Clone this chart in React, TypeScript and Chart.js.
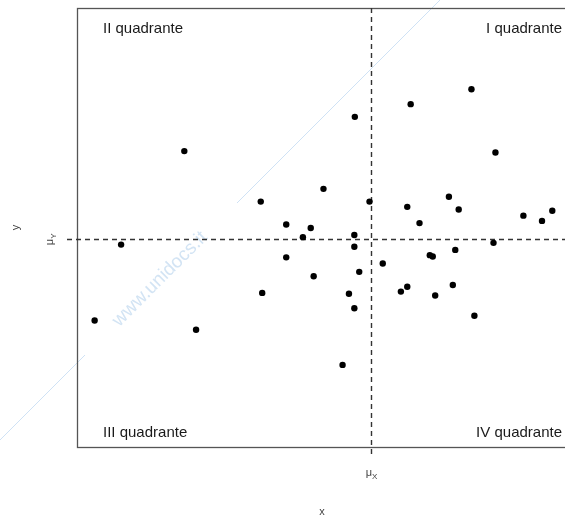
import React, { useEffect, useRef } from "react";
import { Chart, registerables } from "chart.js";

Chart.register(...registerables);

// Data in arbitrary units (0..100 on each axis across the plot box)
const xValues = [
  21.9, 9.0, 3.6, 24.3, 56.7, 50.3, 37.5, 59.7, 42.7, 47.7,
  46.1, 56.6, 56.6, 42.7, 57.6, 48.3, 37.8, 55.5, 56.6, 54.2,
  80.5, 68.1, 85.4, 75.9, 67.4, 77.9, 69.9, 91.1, 94.9, 97.0,
  85.0, 62.4, 72.0, 72.6, 77.2, 66.1, 67.4, 76.7, 73.1, 81.1,
];
const yValues = [
  67.4, 46.1, 28.8, 26.7, 75.2, 58.8, 55.9, 55.9, 50.7, 49.9,
  47.8, 48.3, 45.6, 43.2, 39.9, 38.9, 35.1, 34.9, 31.6, 18.7,
  81.5, 78.1, 67.1, 57.0, 54.7, 54.1, 51.0, 52.7, 51.5, 53.8,
  46.5, 41.8, 43.7, 43.4, 44.9, 35.4, 36.5, 36.9, 34.5, 29.9,
];
const muX = 60.1;
const muY = 47.3;
const quadrantLabels = ["I quadrante", "II quadrante", "III quadrante", "IV quadrante"];
const xLabel = "x";
const yLabel = "y";
const watermark = "www.unidocs.it";

const FONT = "'Liberation Sans', Arial, sans-serif";

const decorPlugin = {
  id: "decor",
  beforeDatasetsDraw(chart: any) {
    const { ctx, chartArea, scales } = chart;
    const { left, right, top, bottom } = chartArea;
    const mx = Math.round(scales.x.getPixelForValue(muX)) + 0.5;
    const my = Math.round(scales.y.getPixelForValue(muY)) + 0.5;
    ctx.save();
    // watermark line
    ctx.strokeStyle = "#cfe2f5";
    ctx.lineWidth = 1;
    ctx.beginPath();
    ctx.moveTo(0, 440);
    ctx.lineTo(85, 355);
    ctx.moveTo(237, 203);
    ctx.lineTo(440, 0);
    ctx.stroke();
    // watermark text
    ctx.save();
    ctx.translate(160, 279);
    ctx.rotate(-Math.PI / 4);
    ctx.fillStyle = "#d3e4f4";
    ctx.font = `19px ${FONT}`;
    ctx.textAlign = "center";
    ctx.textBaseline = "middle";
    ctx.fillText(watermark, 0, 0);
    ctx.restore();
    // box
    ctx.strokeStyle = "#555";
    ctx.lineWidth = 1.3;
    ctx.strokeRect(left + 0.5, top + 0.5, right - left, bottom - top);
    // dashed mean lines
    ctx.strokeStyle = "#333";
    ctx.lineWidth = 1.4;
    ctx.setLineDash([5, 4]);
    ctx.beginPath();
    ctx.moveTo(mx, top);
    ctx.lineTo(mx, bottom + 10);
    ctx.moveTo(left - 10, my);
    ctx.lineTo(right, my);
    ctx.stroke();
    ctx.setLineDash([]);
    ctx.restore();
  },
  afterDraw(chart: any) {
    const { ctx, chartArea, scales } = chart;
    const { left, right, top, bottom } = chartArea;
    const mx = scales.x.getPixelForValue(muX);
    const my = scales.y.getPixelForValue(muY);
    ctx.save();
    ctx.fillStyle = "#1a1a1a";
    ctx.font = `15px ${FONT}`;
    ctx.textBaseline = "alphabetic";
    ctx.textAlign = "right";
    ctx.fillText(quadrantLabels[0], right - 5, top + 25);
    ctx.fillText(quadrantLabels[3], right - 5, bottom - 10);
    ctx.textAlign = "left";
    ctx.fillText(quadrantLabels[1], left + 26, top + 25);
    ctx.fillText(quadrantLabels[2], left + 26, bottom - 10);

    // mu labels
    ctx.fillStyle = "#444";
    const drawMu = (sub: string) => {
      ctx.font = `11px ${FONT}`;
      const w1 = ctx.measureText("\u03bc").width;
      ctx.font = `8px ${FONT}`;
      const w2 = ctx.measureText(sub).width;
      const total = w1 + w2;
      ctx.textAlign = "left";
      ctx.textBaseline = "alphabetic";
      ctx.font = `11px ${FONT}`;
      ctx.fillText("\u03bc", -total / 2, 0);
      ctx.font = `8px ${FONT}`;
      ctx.fillText(sub, -total / 2 + w1, 3);
    };
    ctx.save();
    ctx.translate(mx, 476);
    drawMu("X");
    ctx.restore();
    ctx.save();
    ctx.translate(53, my);
    ctx.rotate(-Math.PI / 2);
    drawMu("Y");
    ctx.restore();

    // axis titles
    ctx.font = `11px ${FONT}`;
    ctx.textAlign = "center";
    ctx.textBaseline = "alphabetic";
    ctx.fillText(xLabel, (left + right) / 2, 515);
    ctx.save();
    ctx.translate(19, (top + bottom) / 2);
    ctx.rotate(-Math.PI / 2);
    ctx.fillText(yLabel, 0, 0);
    ctx.restore();
    ctx.restore();
  },
};

export default function App() {
  const ref = useRef<HTMLCanvasElement>(null);
  useEffect(() => {
    if (!ref.current) return;
    const data = xValues.map((x, i) => ({ x, y: yValues[i] }));
    const chart = new Chart(ref.current, {
      type: "scatter",
      data: {
        datasets: [
          {
            data,
            pointRadius: 3.2,
            pointBackgroundColor: "#000",
            pointBorderWidth: 0,
            pointHoverRadius: 3.2,
          },
        ],
      },
      options: {
        animation: false,
        responsive: false,
        events: [],
        layout: { padding: { left: 77, top: 8, right: 13, bottom: 70 } },
        scales: {
          x: { type: "linear", min: 0, max: 100, display: false },
          y: { type: "linear", min: 0, max: 100, display: false },
        },
        plugins: { legend: { display: false }, tooltip: { enabled: false } },
      },
      plugins: [decorPlugin],
    });
    return () => chart.destroy();
  }, []);
  return (
    <div
      style={{
        position: "fixed",
        left: 0,
        top: 0,
        width: 565,
        height: 517,
        overflow: "hidden",
        background: "#fff",
      }}
    >
      <canvas ref={ref} width={580} height={517} style={{ display: "block" }} />
    </div>
  );
}
